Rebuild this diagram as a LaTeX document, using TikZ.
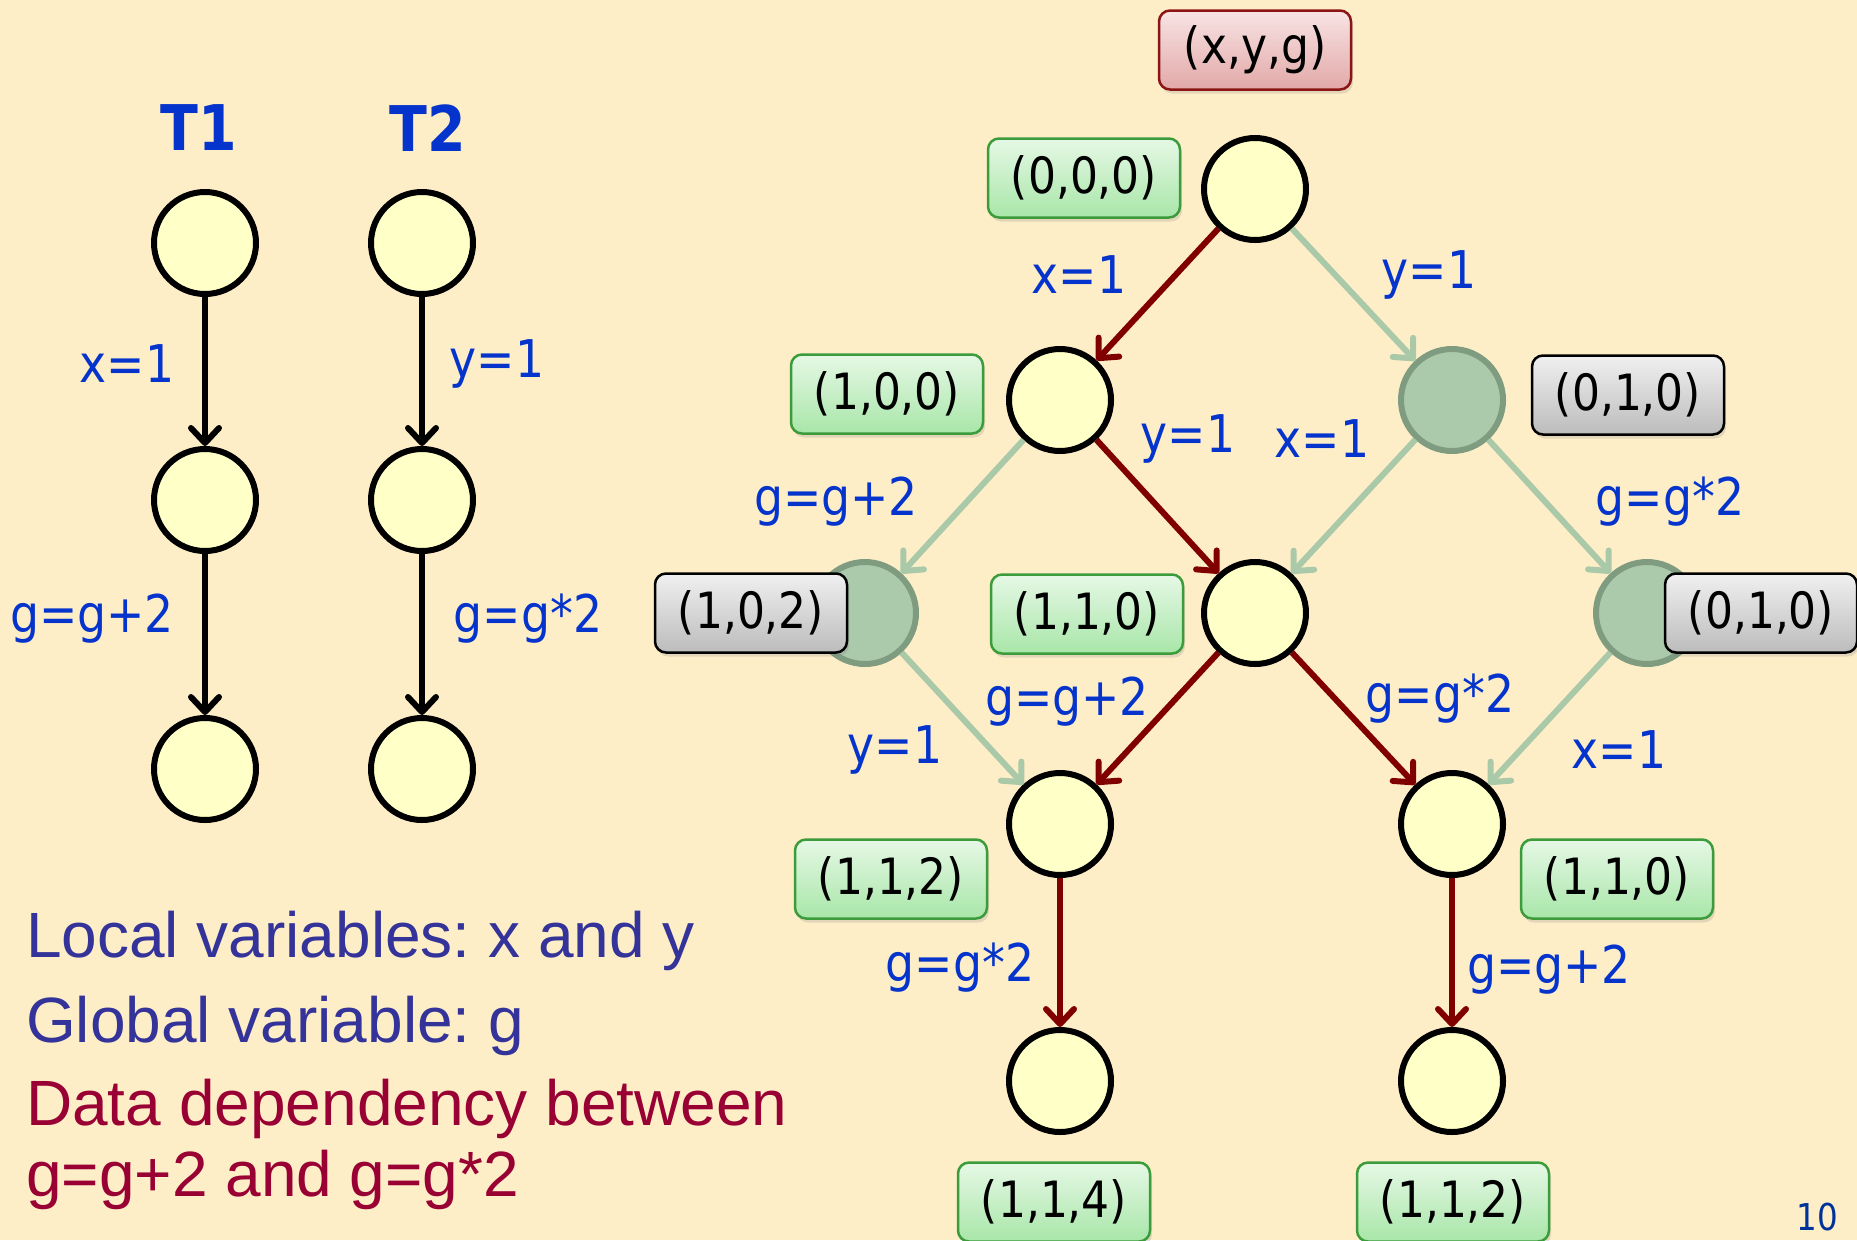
\documentclass[tikz,border=0pt]{standalone}
\usepackage{fontspec}
\setmainfont{DejaVu Sans}[FakeStretch=0.88]
\newfontfamily\arialf{Liberation Sans}
\usetikzlibrary{arrows.meta,shadows}
\definecolor{bgc}{RGB}{254,238,200}
\definecolor{nfill}{RGB}{255,255,200}
\definecolor{gfill}{RGB}{171,201,171}
\definecolor{gcirc}{RGB}{127,156,128}
\definecolor{ered}{RGB}{128,0,0}
\definecolor{egreen}{RGB}{169,201,169}
\definecolor{labblue}{RGB}{5,52,204}
\definecolor{txtblue}{RGB}{51,51,153}
\definecolor{txtred}{RGB}{153,0,51}
\definecolor{numblue}{RGB}{0,51,153}
\definecolor{gtop}{RGB}{230,248,230}
\definecolor{gbot}{RGB}{168,230,168}
\definecolor{gborder}{RGB}{60,156,60}
\definecolor{ytop}{RGB}{240,240,240}
\definecolor{ybot}{RGB}{188,188,188}
\definecolor{ptop}{RGB}{248,228,228}
\definecolor{pbot}{RGB}{226,168,168}
\definecolor{pborder}{RGB}{139,20,20}
\frenchspacing
\begin{document}
\begin{tikzpicture}[x=1pt,y=-1pt,
  st/.style={circle,draw=black,line width=6pt,fill=nfill,minimum size=102pt,inner sep=0pt},
  gst/.style={st,draw=gcirc,fill=gfill},
  lab/.style={text=labblue,font=\fontsize{52}{52}\selectfont,inner sep=0pt},
  tlab/.style={text=labblue,font=\bfseries\fontsize{63}{63}\selectfont,inner sep=0pt},
  box/.style={rounded corners=11pt,minimum width=192pt,minimum height=79pt,line width=2.5pt,
     font=\fontsize{50}{50}\selectfont,inner sep=0pt,
     drop shadow={opacity=0.22,shadow xshift=2pt,shadow yshift=-4pt}},
  gbox/.style={box,draw=gborder,top color=gtop,bottom color=gbot},
  ybox/.style={box,draw=black,top color=ytop,bottom color=ybot},
  pbox/.style={box,draw=pborder,top color=ptop,bottom color=pbot},
  tip/.style={-{Straight Barb[round,length=15pt,width=28pt]}},
  eblack/.style={draw=black,line width=6pt,tip},
  edred/.style={draw=ered,line width=6pt,tip},
  edgreen/.style={draw=egreen,line width=6pt,tip},
  btxt/.style={anchor=base west,inner sep=0pt,font=\arialf\fontsize{64}{64}\selectfont}
]
\fill[bgc] (0,0) rectangle (1857,1240);
\useasboundingbox (0,0) rectangle (1857,1240);

% ---------- left: threads ----------
\node[tlab] (t1) at (199,128) {T1};
\node[tlab] (t2) at (428,128) {T2};
\node[st] (a1) at (205,243) {};
\node[st] (a2) at (205,500) {};
\node[st] (a3) at (205,769) {};
\node[st] (b1) at (422,243) {};
\node[st] (b2) at (422,500) {};
\node[st] (b3) at (422,769) {};
\draw[eblack] (a1) -- (a2);
\draw[eblack] (a2) -- (a3);
\draw[eblack] (b1) -- (b2);
\draw[eblack] (b2) -- (b3);
\node[lab] (la1) at (127,364) {x=1};
\node[lab] (la2) at (92,619) {g=g+2};
\node[lab] (lb1) at (497,364) {y=1};
\node[lab] (lb2) at (528,619) {g=g*2};

% ---------- right: state graph ----------
\node[st]  (r)   at (1255,189) {};
\node[st]  (p1)  at (1060,400) {};
\node[gst] (q1)  at (1452,400) {};
\node[gst] (p2)  at (865,613) {};
\node[st]  (m2)  at (1255,613) {};
\node[gst] (q2)  at (1647,613) {};
\node[st]  (p3)  at (1060,824) {};
\node[st]  (q3)  at (1452,824) {};
\node[st]  (p4)  at (1060,1081) {};
\node[st]  (q4)  at (1452,1081) {};

\node[pbox] (bxyg) at (1255,50) {(x,y,g)};
\node[gbox] (b000) at (1084,178) {(0,0,0)};
\node[gbox] (b100) at (887,394) {(1,0,0)};
\node[ybox] (b010) at (1628,395) {(0,1,0)};
\node[ybox] (b102) at (751,613) {(1,0,2)};
\node[gbox] (b110) at (1087,614) {(1,1,0)};
\node[ybox] (b010b) at (1761,613) {(0,1,0)};
\node[gbox] (b112) at (891,879) {(1,1,2)};
\node[gbox] (b110b) at (1617,879) {(1,1,0)};
\node[gbox] (b114) at (1054,1202) {(1,1,4)};
\node[gbox] (b112b) at (1453,1202) {(1,1,2)};

\draw[edred]   (r) -- (p1);
\draw[edgreen] (r) -- (q1);
\draw[edgreen] (p1) -- (p2);
\draw[edred]   (p1) -- (m2);
\draw[edgreen] (q1) -- (m2);
\draw[edgreen] (q1) -- (q2);
\draw[edgreen] (p2) -- (p3);
\draw[edred]   (m2) -- (p3);
\draw[edred]   (m2) -- (q3);
\draw[edgreen] (q2) -- (q3);
\draw[edred]   (p3) -- (p4);
\draw[edred]   (q3) -- (q4);

\node[lab] (l1) at (1079,275) {x=1};
\node[lab] (l2) at (1429,275) {y=1};
\node[lab] (l3) at (1188,439) {y=1};
\node[lab] (l4) at (1322,439) {x=1};
\node[lab] (l5) at (836,502) {g=g+2};
\node[lab] (l6) at (1670,502) {g=g*2};
\node[lab] (l7) at (895,750) {y=1};
\node[lab] (l8) at (1067,702) {g=g+2};
\node[lab] (l9) at (1440,699) {g=g*2};
\node[lab] (l10) at (1619,750) {x=1};
\node[lab] (l11) at (960,968) {g=g*2};
\node[lab] (l12) at (1549,970) {g=g+2};

% ---------- bottom text ----------
\node[btxt,text=txtblue] (t3) at (26,957) {Local variables: x and y};
\node[btxt,text=txtblue] (t4) at (26,1042) {Global variable: g};
\node[btxt,text=txtred] (t5) at (26,1125) {Data dependency between};
\node[btxt,text=txtred] (t6) at (26,1196) {g=g+2 and g=g*2};
\node[anchor=base,inner sep=0pt,text=numblue,font=\fontsize{37}{37}\selectfont] (num) at (1817,1230) {10};
\end{tikzpicture}
\end{document}
